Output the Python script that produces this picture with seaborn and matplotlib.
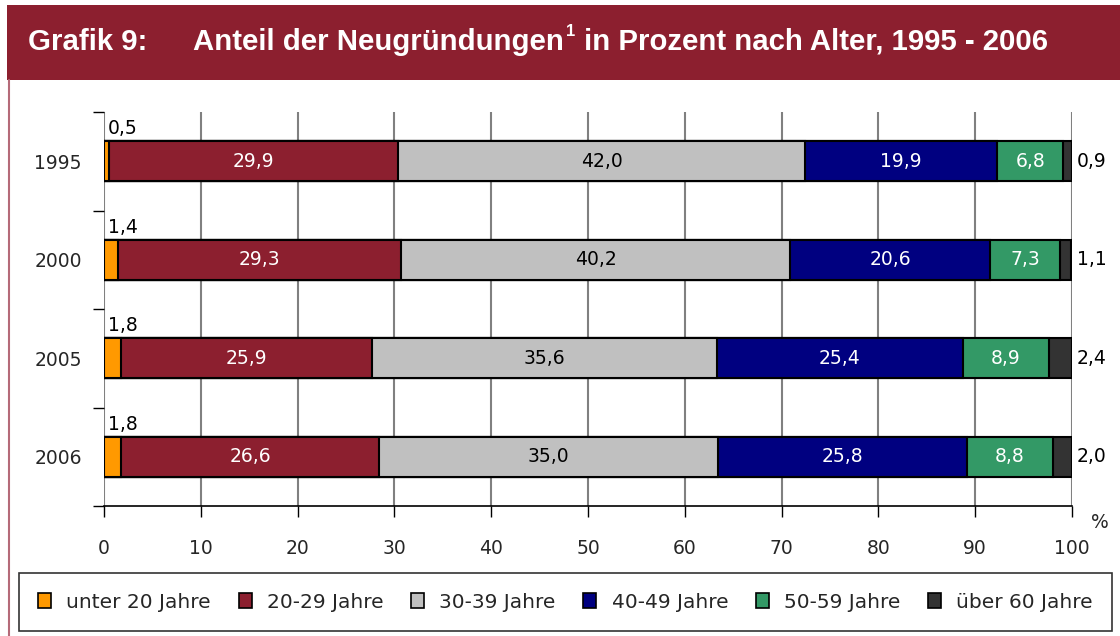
import matplotlib
matplotlib.use("Agg")
import matplotlib.pyplot as plt
import seaborn as sns
import numpy as np
import pandas as pd
from matplotlib.patches import Rectangle
from matplotlib.lines import Line2D
from matplotlib.ticker import FixedLocator

years = ["1995", "2000", "2005", "2006"]
groups = ["unter 20 Jahre", "20-29 Jahre", "30-39 Jahre", "40-49 Jahre", "50-59 Jahre", "über 60 Jahre"]
unter20 = [0.5, 1.4, 1.8, 1.8]
j20_29 = [29.9, 29.3, 25.9, 26.6]
j30_39 = [42.0, 40.2, 35.6, 35.0]
j40_49 = [19.9, 20.6, 25.4, 25.8]
j50_59 = [6.8, 7.3, 8.9, 8.8]
ueber60 = [0.9, 1.1, 2.4, 2.0]
x_ticks = [0, 10, 20, 30, 40, 50, 60, 70, 80, 90, 100]

series = [unter20, j20_29, j30_39, j40_49, j50_59, ueber60]
colors = ["#FF9900", "#8C1F2F", "#C0C0C0", "#000080", "#339966", "#333333"]
text_colors = [None, "white", "black", "white", "white", None]

sns.set_style("white")
plt.rcParams['font.family'] = ['DejaVu Sans']
FS = 13.5

W, H = 1120, 636
fig = plt.figure(figsize=(W / 100, H / 100), dpi=100)

# header band
fig.patches.append(Rectangle((7 / W, 1 - 80 / H), 1, 75 / H, transform=fig.transFigure,
                             facecolor="#8C1F2F", edgecolor="none", zorder=0))
fig.lines.append(Line2D([8.5 / W, 8.5 / W], [0, 1 - 80 / H], transform=fig.transFigure,
                        color="#B56A78", lw=1.5))

ax = fig.add_axes([104 / W, 1 - 506 / H, 968 / W, 394 / H])

data = pd.DataFrame({"year": years})
cums = np.cumsum(np.array(series), axis=0)
for i in range(len(series) - 1, -1, -1):
    data["cum"] = cums[i]
    sns.barplot(data=data, x="cum", y="year", orient="h", color=colors[i],
                width=0.41, edgecolor="black", linewidth=1.5, saturation=1,
                ax=ax, zorder=3)

ax.set_xlim(0, 100)
ax.set_ylim(3.5, -0.5)
ax.set_xlabel("")
ax.set_ylabel("")

# labels
for r, yr in enumerate(years):
    for i, s in enumerate(series):
        v = s[r]
        lab = f"{v:.1f}".replace(".", ",")
        if i == 0:
            ax.text(0.4, r - 0.33, lab, ha="left", va="center", fontsize=FS, color="black")
        elif i == len(series) - 1:
            ax.text(100.5, r, lab, ha="left", va="center", fontsize=FS, color="black",
                    clip_on=False)
        else:
            ax.text(cums[i][r] - v / 2, r, lab, ha="center", va="center", fontsize=FS,
                    color=text_colors[i], zorder=5)

# grid & spines
ax.set_xticks(x_ticks)
ax.xaxis.grid(True, color="#808080", lw=1.5, zorder=0)
ax.set_axisbelow(True)
for sp in ["top", "right", "left"]:
    ax.spines[sp].set_visible(False)
ax.spines["bottom"].set_color("black")
ax.spines["bottom"].set_linewidth(1.2)
ax.tick_params(axis="x", direction="out", length=8, width=1, color="black",
               labelsize=FS, pad=16, bottom=True)
ax.set_yticks(range(len(years)))
ax.set_yticklabels(years)
ax.yaxis.set_minor_locator(FixedLocator([-0.5, 0.5, 1.5, 2.5, 3.5]))
ax.tick_params(axis="y", which="major", length=0, labelsize=FS, pad=16, left=True)
ax.tick_params(axis="y", which="minor", length=8, width=1, color="black", left=True)

ax.text(1.0 + 28 / 968, -16 / 394, "%", transform=ax.transAxes, ha="center", va="center",
        fontsize=FS)

# title
TFS = 21.2
ybase = 1 - 50 / H
fig.text(28 / W, ybase, "Grafik 9:", family="Liberation Sans", weight="bold",
         fontsize=TFS, color="white", va="baseline")
renderer = fig.canvas.get_renderer()
t1 = fig.text(193 / W, ybase, "Anteil der Neugründungen", family="Liberation Sans",
              weight="bold", fontsize=TFS, color="white", va="baseline")
bb = t1.get_window_extent(renderer)
t2 = fig.text((bb.x1 + 2) / W, 1 - 36 / H, "1", family="Liberation Sans",
              weight="bold", fontsize=12, color="white", va="baseline")
bb2 = t2.get_window_extent(renderer)
fig.text((bb2.x1 + 1) / W, ybase, " in Prozent nach Alter, 1995 - 2006",
         family="Liberation Sans", weight="bold", fontsize=TFS, color="white", va="baseline")

# legend
LFS = 14.5
handles = [Rectangle((0, 0), 1, 1, facecolor=c, edgecolor="black", lw=1.2) for c in colors]
leg = fig.legend(handles, groups, loc="center",
                 bbox_to_anchor=(19 / W, 1 - 630 / H, 1093 / W, 56 / H),
                 mode="expand", ncol=6, frameon=True, fancybox=False, fontsize=LFS,
                 handlelength=0.65, handleheight=0.75, handletextpad=0.75,
                 columnspacing=1.4, borderpad=0.95, borderaxespad=0)
leg.get_frame().set_edgecolor("black")
leg.get_frame().set_linewidth(1.2)

fig.savefig("out.png", dpi=100)
